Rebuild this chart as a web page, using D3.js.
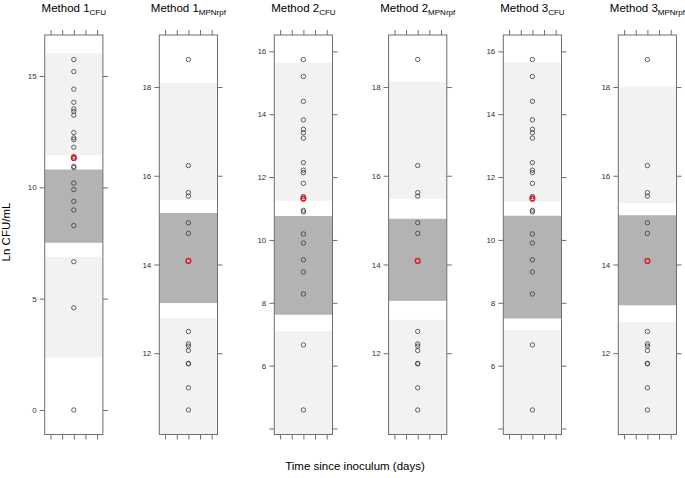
<!DOCTYPE html>
<html><head><meta charset="utf-8">
<script src="https://cdn.jsdelivr.net/npm/d3@7"></script>
<style>body{margin:0;background:#fff}svg{display:block}text{font-family:"Liberation Sans",Arial,sans-serif}</style>
</head><body><svg id="c" width="685" height="478"></svg>
<script>
// ---- data ----
const methods = ["1", "1", "2", "2", "3", "3"];
const units = ["CFU", "MPNrpf", "CFU", "MPNrpf", "CFU", "MPNrpf"];
const cfuPoints = [15.74, 15.20, 14.41, 13.82, 13.52, 13.41, 13.24, 12.46, 12.22, 12.14, 11.80, 11.38, 11.30, 10.94, 10.89, 10.19, 9.90, 9.37, 8.98, 8.28, 6.66, 4.59];
const cfuPointsMethod1 = [15.74, 15.20, 14.41, 13.82, 13.52, 13.41, 13.24, 12.46, 12.22, 12.14, 11.80, 11.38, 11.30, 10.94, 10.89, 10.19, 9.90, 9.37, 8.98, 8.28, 6.66, 4.59, 0];
const mpnPoints = [18.62, 16.23, 15.62, 15.54, 14.94, 14.70, 12.49, 12.21, 12.16, 12.06, 11.77, 11.76, 11.22, 10.72];
const redPoints = [11.32, 14.08, 11.32, 14.08, 11.32, 14.08];
// bands: outer light, inner white, central dark  [low, high]
const lightBand = [[2.36, 16.02], [9.9, 18.09], [3.6, 15.63], [9.9, 18.12], [3.6, 15.65], [9.9, 18.01]];
const whiteBand = [[6.88, 11.44], [12.79, 15.45], [7.10, 11.25], [12.75, 15.48], [7.14, 11.22], [12.70, 15.38]];
const darkBand = [[7.51, 10.80], [13.13, 15.16], [7.62, 10.76], [13.18, 15.03], [7.50, 10.77], [13.08, 15.11]];
const yTicks = [[0, 5, 10, 15], [12, 14, 16, 18], [4, 6, 8, 10, 12, 14, 16], [12, 14, 16, 18], [4, 6, 8, 10, 12, 14, 16], [12, 14, 16, 18]];
const yTickLabels = [["0", "5", "10", "15"], ["12", "14", "16", "18"], ["", "6", "8", "10", "12", "14", "16"], ["12", "14", "16", "18"], ["", "6", "8", "10", "12", "14", "16"], ["12", "14", "16", "18"]];
const xTicks = [1, 2, 3, 4, 5];
const xPos = 3;
const yLabel = "Ln CFU/mL";
const xLabel = "Time since inoculum (days)";

// ---- layout ----
const svg = d3.select("#c");
const panelLefts = [44.7, 159.3, 274.3, 388.6, 503.3, 618.3];
const pw = 58.2, plotTop = 35, plotBottom = 434.5;
const pointSets = [cfuPointsMethod1, mpnPoints, cfuPoints, mpnPoints, cfuPoints, mpnPoints];
const boxCol = "#6e6e6e";

pointSets.forEach((pts, i) => {
  const all = pts.concat([redPoints[i]]);
  const [mn, mx] = d3.extent(all);
  const pad = (mx - mn) * 0.07;
  const y = d3.scaleLinear().domain([mn - pad, mx + pad]).range([plotBottom, plotTop]);
  const x = d3.scaleLinear().domain([0.5, 5.5]).range([panelLefts[i], panelLefts[i] + pw]);
  const g = svg.append("g");
  const clipId = "clip" + i;
  g.append("clipPath").attr("id", clipId).append("rect")
    .attr("x", x.range()[0]).attr("y", plotTop).attr("width", pw).attr("height", plotBottom - plotTop);
  const bg = g.append("g").attr("clip-path", `url(#${clipId})`);
  const band = (b, col) => bg.append("rect").attr("x", x.range()[0]).attr("width", pw)
    .attr("y", y(b[1])).attr("height", y(b[0]) - y(b[1])).attr("fill", col);
  band(lightBand[i], "#f2f2f2");
  band(whiteBand[i], "#ffffff");
  band(darkBand[i], "#b3b3b3");

  // axes
  const left = d3.axisLeft(y).tickValues(yTicks[i]).tickSize(5).tickPadding(3)
    .tickFormat((d, k) => yTickLabels[i][k]);
  const ga = g.append("g").attr("transform", `translate(${x.range()[0]},0)`).call(left);
  const right = d3.axisRight(y).tickValues(yTicks[i]).tickSize(5).tickFormat("");
  const gr = g.append("g").attr("transform", `translate(${x.range()[1]},0)`).call(right);
  const topAx = d3.axisTop(x).tickValues(xTicks).tickSize(5).tickFormat("");
  const gt = g.append("g").attr("transform", `translate(0,${plotTop})`).call(topAx);
  const botAx = d3.axisBottom(x).tickValues(xTicks).tickSize(5).tickFormat("");
  const gb = g.append("g").attr("transform", `translate(0,${plotBottom})`).call(botAx);
  [ga, gr, gt, gb].forEach(a => {
    a.select(".domain").remove();
    a.selectAll("line").attr("stroke", boxCol);
    a.selectAll("text").attr("font-size", 8).attr("fill", "#333")
      .attr("font-family", "Liberation Sans, Arial, sans-serif");
  });
  g.append("rect").attr("x", x.range()[0]).attr("y", plotTop).attr("width", pw).attr("height", plotBottom - plotTop)
    .attr("fill", "none").attr("stroke", boxCol).attr("stroke-width", 1);

  g.selectAll("circle.p").data(pts).enter().append("circle")
    .attr("cx", x(xPos)).attr("cy", d => y(d)).attr("r", 2.2)
    .attr("fill", "none").attr("stroke", "#333").attr("stroke-width", 0.75);
  g.append("circle").attr("cx", x(xPos)).attr("cy", y(redPoints[i])).attr("r", 2.4)
    .attr("fill", "none").attr("stroke", "#e8191c").attr("stroke-width", 1.4);

  const t = svg.append("text").attr("x", (x.range()[0] + x.range()[1]) / 2).attr("y", 12)
    .attr("text-anchor", "middle").attr("font-size", 11.5).attr("fill", "#000");
  t.append("tspan").text("Method " + methods[i]);
  t.append("tspan").attr("dy", 2.5).attr("font-size", 8).text(units[i]);
});

svg.append("text").attr("transform", "translate(10,232) rotate(-90)")
  .attr("text-anchor", "middle").attr("font-size", 11.5).attr("fill", "#000").text(yLabel);
svg.append("text").attr("x", 355).attr("y", 470)
  .attr("text-anchor", "middle").attr("font-size", 11.5).attr("fill", "#000").text(xLabel);
</script></body></html>
